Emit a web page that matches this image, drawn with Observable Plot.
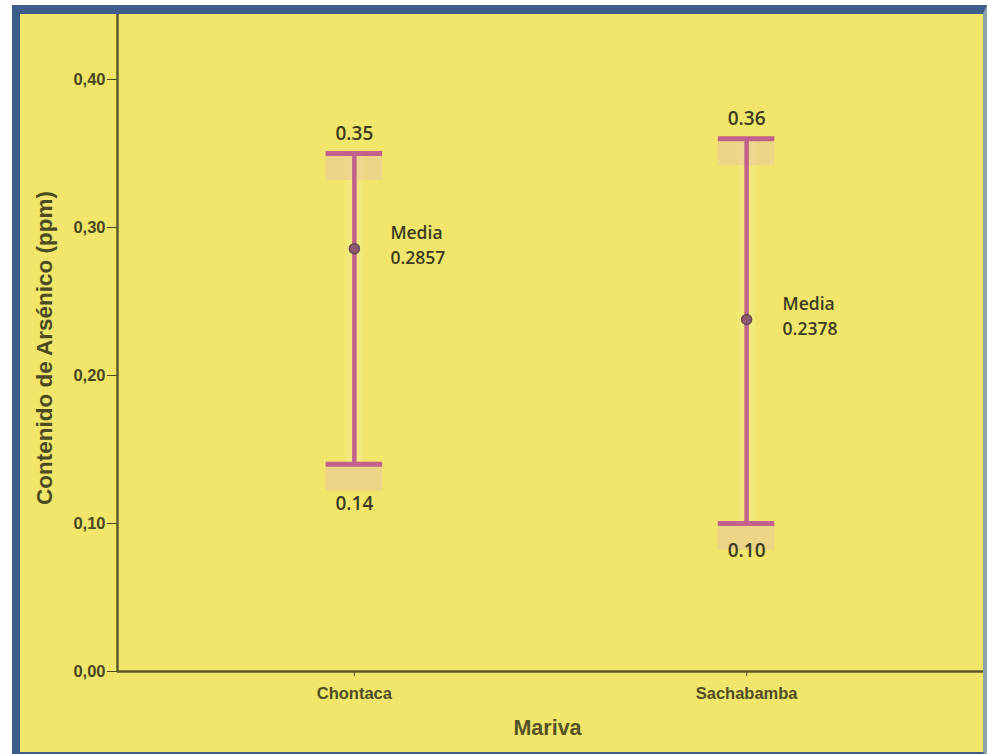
<!DOCTYPE html>
<html>
<head>
<meta charset="utf-8">
<script src="https://cdn.jsdelivr.net/npm/d3@7"></script>
<script src="https://cdn.jsdelivr.net/npm/@observablehq/plot@0.6"></script>
<style>
  html, body { margin: 0; padding: 0; background: #fdfdfd; }
  #wrap { position: relative; width: 987px; height: 754px; overflow: hidden; }
  #panel {
    position: absolute; left: 12px; top: 5px; width: 963px; height: 738px;
    background: #f1e56c;
    border-left: 8px solid #3b5c88;
    border-top: 9px solid #3d5e8a;
    border-bottom: 4px solid #3d5e8a;
    border-right: 4px solid #8fa2a8;
  }
  #chart { position: absolute; left: 0; top: 0; }
  #chart svg { background: transparent !important; overflow: visible; }
</style>
</head>
<body>
<div id="wrap">
  <div id="panel"></div>
  <div id="chart"></div>
</div>
<script>
// Arsenic content by site: range (min–max) and mean
const sites = ["Chontaca", "Sachabamba"];
const upper = [0.35, 0.36];
const lower = [0.14, 0.10];
const means = [0.2857, 0.2378];
const yTicks = [0, 0.1, 0.2, 0.3, 0.4];

const rows = sites.map((site, i) => ({i, site, hi: upper[i], lo: lower[i], mean: means[i]}));

const capHalf = 0.072;          // half width of the whisker caps, in category units
const xPad = 0.604;             // room left/right of the categories
const barColor = "#c0628c";
const textColor = "#3c3c1e";
const labelFont = "'Open Sans', sans-serif";
const axisFont = "'Liberation Sans', Arial, sans-serif";
const fmt2 = d => d.toFixed(2);

const chart = Plot.plot({
  width: 987,
  height: 754,
  marginLeft: 117,
  marginRight: 4,
  marginTop: 14,
  marginBottom: 83,
  style: {background: "transparent", overflow: "visible"},
  x: {domain: [-xPad, sites.length - 1 + xPad]},
  y: {domain: [0, 0.4439]},
  marks: [
    // axes
    Plot.axisY({ticks: yTicks, tickFormat: d => d.toFixed(2).replace(".", ","), tickSize: 10, tickPadding: 2,
      color: "#4a481e", fontSize: 16.5, fontWeight: "bold", fontFamily: axisFont, label: null}),
    Plot.axisX({ticks: rows.map(d => d.i), tickFormat: i => sites[i], tickSize: 5, tickPadding: 11,
      color: "#4f4d22", fontSize: 16.5, fontWeight: "bold", fontFamily: axisFont, label: null}),
    Plot.ruleX([-xPad], {stroke: "#5d5a2a", strokeWidth: 2.5}),
    Plot.ruleY([0], {stroke: "#5d5a2a", strokeWidth: 2.5}),

    // soft glow along the bars and shading under the caps
    Plot.ruleX(rows, {x: "i", y1: "lo", y2: "hi", stroke: "#f7ef9c", strokeWidth: 18, strokeOpacity: 0.35}),
    Plot.ruleY(rows, {y: "hi", x1: d => d.i - capHalf, x2: d => d.i + capHalf, stroke: "#eac6a4", strokeWidth: 25, strokeOpacity: 0.5, dy: 14}),
    Plot.ruleY(rows, {y: "lo", x1: d => d.i - capHalf, x2: d => d.i + capHalf, stroke: "#eac6a4", strokeWidth: 25, strokeOpacity: 0.5, dy: 14}),

    // range bars with caps
    Plot.ruleX(rows, {x: "i", y1: "lo", y2: "hi", stroke: barColor, strokeWidth: 4.5}),
    Plot.ruleY(rows, {y: "hi", x1: d => d.i - capHalf, x2: d => d.i + capHalf, stroke: barColor, strokeWidth: 5}),
    Plot.ruleY(rows, {y: "lo", x1: d => d.i - capHalf, x2: d => d.i + capHalf, stroke: barColor, strokeWidth: 5}),

    // mean points
    Plot.dot(rows, {x: "i", y: "mean", r: 5, fill: "#8e5a6e", stroke: "#6a4856", strokeWidth: 1.5}),

    // value labels
    Plot.text(rows, {x: "i", y: "hi", text: d => fmt2(d.hi), dy: -20, fill: textColor, fontSize: 19, fontWeight: 600, fontFamily: labelFont}),
    Plot.text(rows.filter(d => d.i === 0), {x: "i", y: "lo", text: d => fmt2(d.lo), dy: 40, fill: textColor, fontSize: 19, fontWeight: 600, fontFamily: labelFont}),
    Plot.text(rows.filter(d => d.i === 1), {x: "i", y: "lo", text: d => fmt2(d.lo), dy: 27, fill: textColor, fontSize: 19, fontWeight: 600, fontFamily: labelFont}),
    Plot.text(rows, {x: "i", y: "mean", text: d => `Media\n${d.mean.toFixed(4)}`, textAnchor: "start", dx: 36, dy: -5, lineHeight: 1.4, fill: textColor, fontSize: 17.5, fontWeight: 600, fontFamily: labelFont}),

    // axis titles
    Plot.text(["Contenido de Arsénico (ppm)"], {frameAnchor: "left", textAnchor: "middle", dx: -73, dy: 5, rotate: -90,
      fill: "#4b4a20", fontSize: 22.5, fontWeight: "bold", fontFamily: axisFont, letterSpacing: 1.1}),
    Plot.text(["Mariva"], {frameAnchor: "bottom", dx: -3, dy: 63, fill: "#565326", fontSize: 21.5, fontWeight: "bold", fontFamily: axisFont})
  ]
});

document.getElementById("chart").appendChild(chart);
</script>
</body>
</html>
